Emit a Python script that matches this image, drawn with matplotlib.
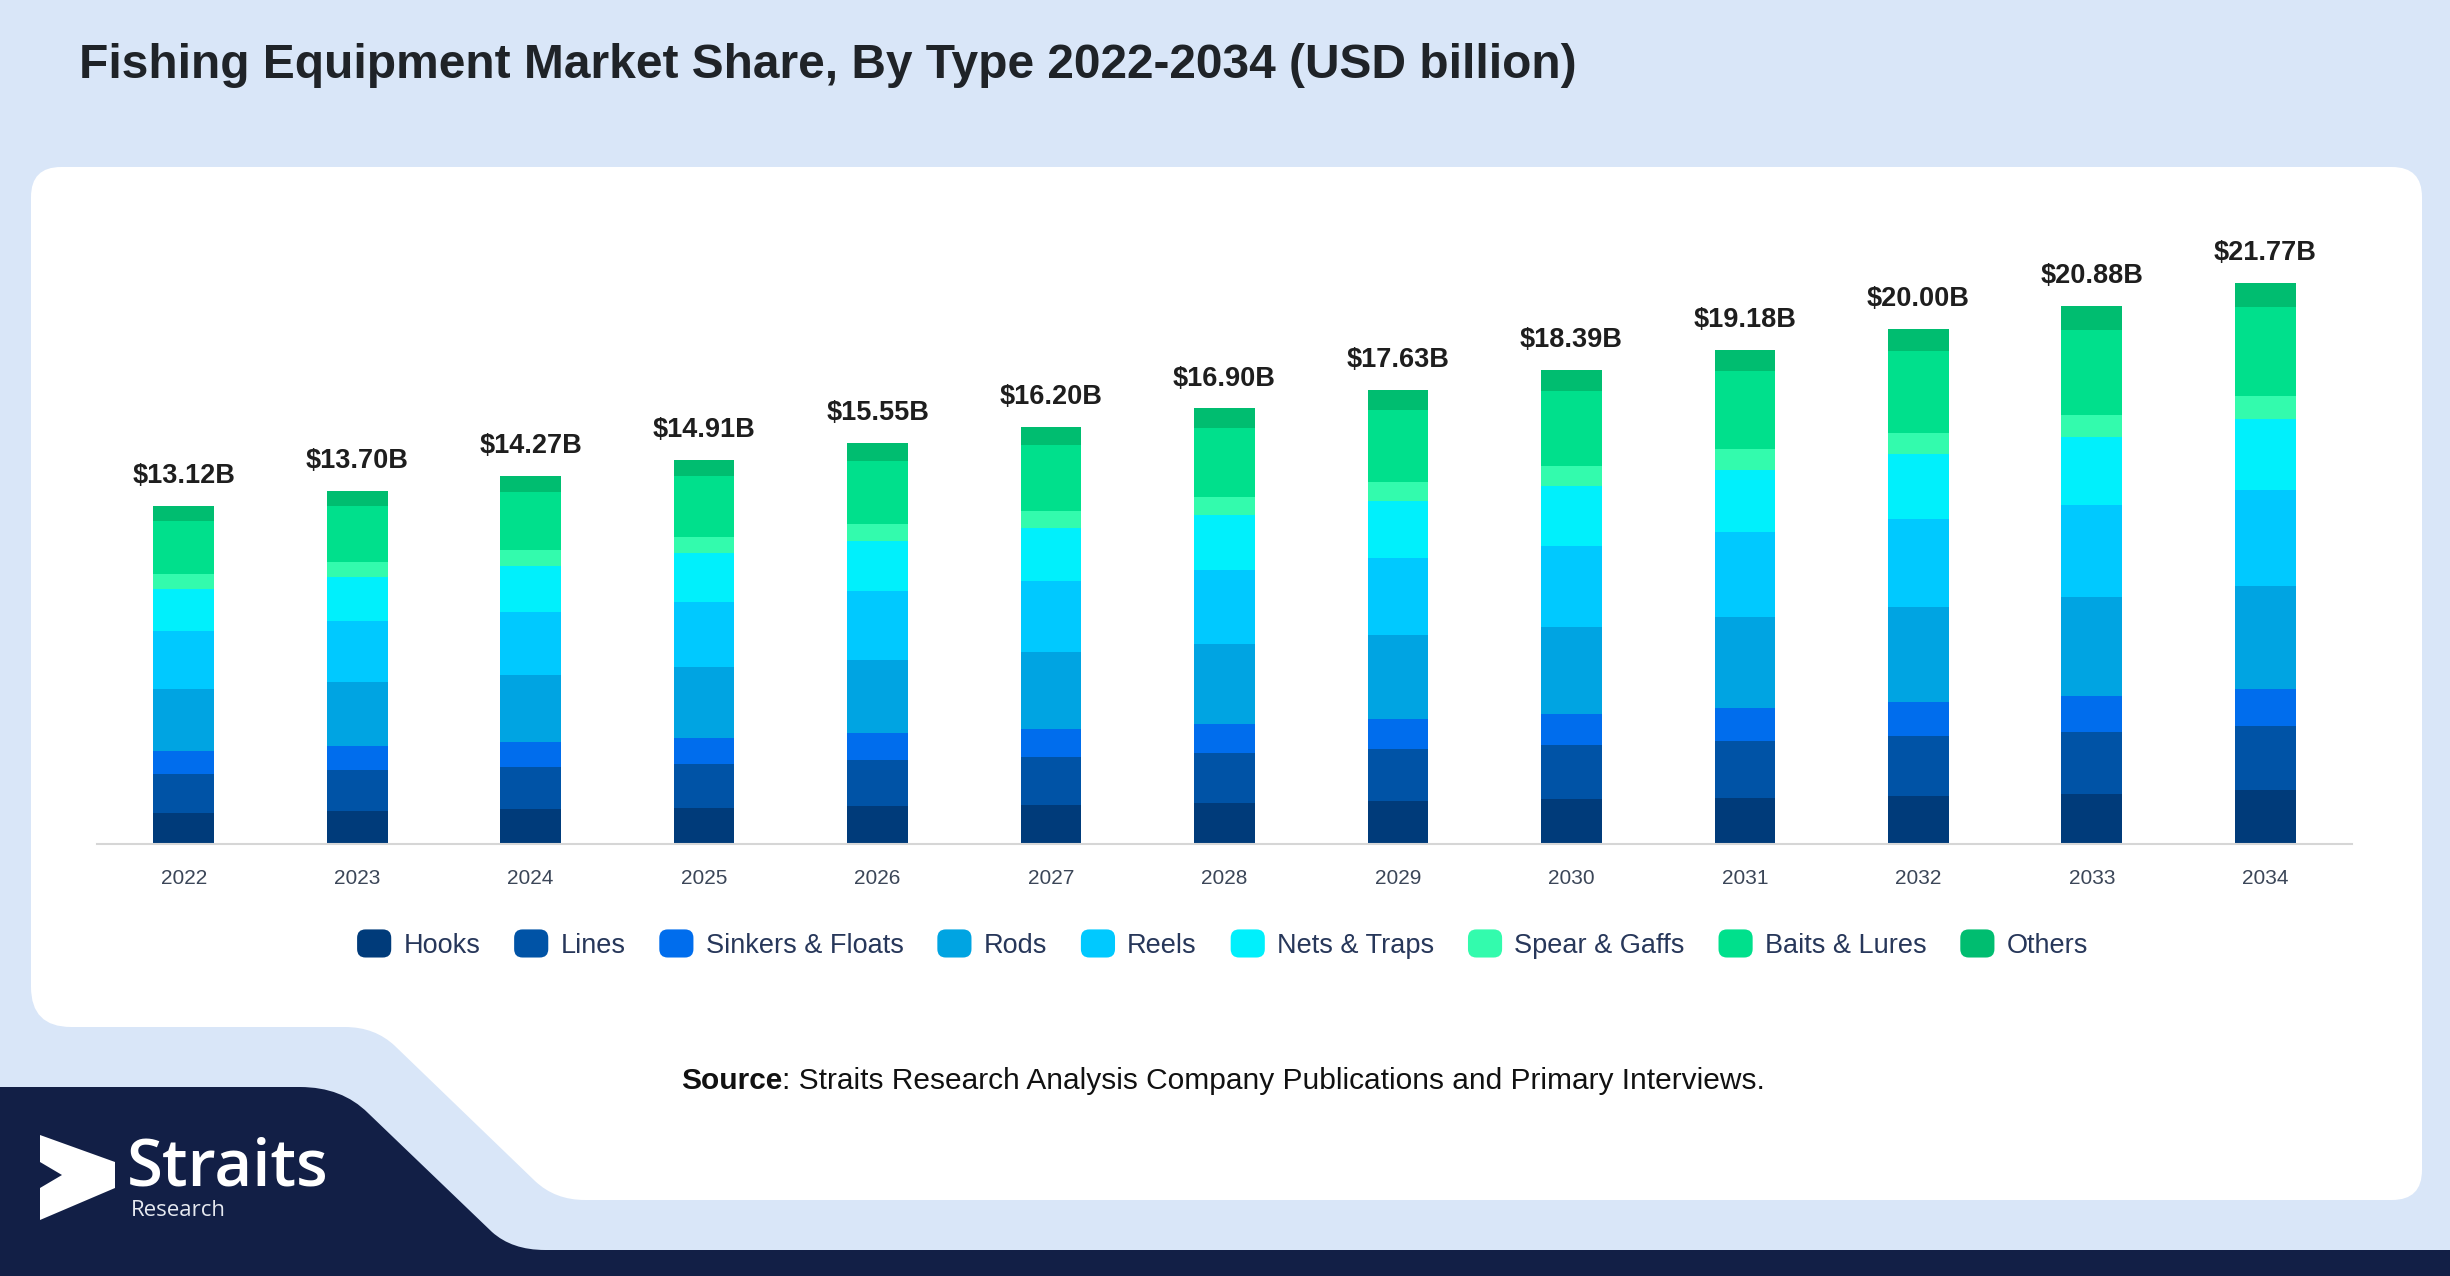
import numpy as np
import matplotlib
matplotlib.use("Agg")
import matplotlib.pyplot as plt
from matplotlib.path import Path
from matplotlib.patches import PathPatch, Polygon, FancyBboxPatch, Patch
from matplotlib.legend_handler import HandlerPatch

plt.rcParams['font.family'] = ['Liberation Sans', 'DejaVu Sans']

# data (USD billion)
years = ['2022', '2023', '2024', '2025', '2026', '2027', '2028',
         '2029', '2030', '2031', '2032', '2033', '2034']
totals = [13.12, 13.70, 14.27, 14.91, 15.55, 16.20, 16.90,
          17.63, 18.39, 19.18, 20.00, 20.88, 21.77]
hooks = [1.20, 1.27, 1.33, 1.39, 1.45, 1.51, 1.57, 1.64, 1.71, 1.78, 1.86, 1.94, 2.06]
lines = [1.51, 1.58, 1.64, 1.71, 1.79, 1.86, 1.94, 2.03, 2.11, 2.21, 2.30, 2.40, 2.49]
sinkers = [0.89, 0.92, 0.96, 1.00, 1.04, 1.09, 1.13, 1.18, 1.23, 1.29, 1.34, 1.40, 1.45]
rods = [2.41, 2.52, 2.63, 2.74, 2.86, 2.98, 3.11, 3.24, 3.38, 3.53, 3.68, 3.84, 4.02]
reels = [2.25, 2.34, 2.44, 2.55, 2.66, 2.77, 2.89, 3.01, 3.14, 3.28, 3.42, 3.57, 3.70]
nets = [1.63, 1.73, 1.80, 1.88, 1.96, 2.04, 2.13, 2.22, 2.32, 2.42, 2.52, 2.63, 2.77]
spear = [0.58, 0.58, 0.60, 0.63, 0.65, 0.68, 0.71, 0.74, 0.77, 0.81, 0.84, 0.88, 0.88]
baits = [2.06, 2.16, 2.25, 2.36, 2.46, 2.56, 2.67, 2.79, 2.91, 3.03, 3.16, 3.30, 3.46]
others = [0.59, 0.60, 0.62, 0.65, 0.68, 0.71, 0.75, 0.78, 0.82, 0.83, 0.88, 0.92, 0.94]

series = [hooks, lines, sinkers, rods, reels, nets, spear, baits, others]
names = ['Hooks', 'Lines', 'Sinkers & Floats', 'Rods', 'Reels', 'Nets & Traps',
         'Spear & Gaffs', 'Baits & Lures', 'Others']
colors = ['#003b7a', '#0053a6', '#006ded', '#00a4e2', '#00c9ff', '#00f0fc',
          '#33fbad', '#00e08c', '#00bd70']

W, H = 2450, 1276
fig = plt.figure(figsize=(W / 100, H / 100), dpi=100)
fig.patch.set_facecolor('#d9e6f8')

# background shapes, in pixel coords (y down)
bg = fig.add_axes([0, 0, 1, 1], zorder=0)
bg.set_xlim(0, W)
bg.set_ylim(H, 0)
bg.axis('off')

M, L, C, Z = Path.MOVETO, Path.LINETO, Path.CURVE3, Path.CLOSEPOLY
panel = [((31, 197), M), ((31, 167), C), ((61, 167), C), ((2392, 167), L),
         ((2422, 167), C), ((2422, 197), C), ((2422, 1170), L),
         ((2422, 1200), C), ((2392, 1200), C), ((585, 1200), L),
         ((555, 1200), C), ((535, 1181), C), ((395, 1046), L),
         ((375, 1027), C), ((345, 1027), C), ((71, 1027), L),
         ((31, 1027), C), ((31, 987), C), ((31, 197), Z)]
bg.add_patch(PathPatch(Path([p for p, _ in panel], [c for _, c in panel]),
                       facecolor='white', edgecolor='none'))

navy = [((0, 1087), M), ((300, 1087), L), ((342, 1087), C), ((368, 1113), C),
        ((492, 1232), L), ((512, 1250), C), ((545, 1250), C), ((W, 1250), L),
        ((W, H), L), ((0, H), L), ((0, 1087), Z)]
bg.add_patch(PathPatch(Path([p for p, _ in navy], [c for _, c in navy]),
                       facecolor='#121f46', edgecolor='none'))

# logo
bg.add_patch(Polygon([(40, 1135), (115, 1162), (115, 1188), (40, 1220),
                      (40, 1188), (62, 1175), (40, 1162)],
                     closed=True, facecolor='white', edgecolor='none'))
bg.text(127, 1186, 'Straits', color='white', fontsize=47, fontweight='semibold',
        family=['Open Sans', 'DejaVu Sans'], va='baseline', ha='left')
bg.text(131, 1216, 'Research', color='#e6e9f0', fontsize=16,
        family=['Open Sans', 'DejaVu Sans'], va='baseline', ha='left')

# title and source
bg.text(79, 78, 'Fishing Equipment Market Share, By Type 2022-2034 (USD billion)',
        fontsize=34.5, fontweight='bold', color='#1f2328', va='baseline', ha='left')
src = bg.text(681, 1089, 'Source', fontsize=21.5, fontweight='bold',
              color='#111111', va='baseline', ha='left')
bg.annotate(': Straits Research Analysis Company Publications and Primary Interviews.',
            xy=(1, 0), xycoords=src, va='bottom', ha='left',
            fontsize=21.5, color='#111111')

# chart
ax = fig.add_axes([97 / W, 1 - 843.5 / H, 2255 / W, 643.5 / H], zorder=2)
ax.set_facecolor('none')
x = np.arange(len(years))
bottom = np.zeros(len(years))
for vals, name, col in zip(series, names, colors):
    ax.bar(x, vals, width=0.35, bottom=bottom, color=col, label=name,
           edgecolor='none')
    bottom += np.array(vals)

for xi, tot in zip(x, totals):
    ax.annotate(f'${tot:.2f}B', (xi, tot), xytext=(0, 16.5),
                textcoords='offset points', ha='center', va='baseline',
                fontsize=19.5, fontweight='bold', color='#1e1e1e')

ax.set_xlim(-0.5, len(years) - 0.5)
ax.set_ylim(0, 25)
ax.set_xticks(x)
ax.set_xticklabels(years, fontsize=15, color='#3b4658')
ax.set_yticks([])
ax.tick_params(axis='x', length=0, pad=18)
for s in ['top', 'left', 'right']:
    ax.spines[s].set_visible(False)
ax.spines['bottom'].set_color('#d6d6d6')
ax.spines['bottom'].set_linewidth(1.5)


class RoundHandler(HandlerPatch):
    def create_artists(self, legend, orig_handle, xdescent, ydescent,
                       width, height, fontsize, trans):
        p = FancyBboxPatch((-xdescent, -ydescent), width, height,
                           boxstyle='round,pad=0,rounding_size=%f' % (height * 0.3),
                           facecolor=orig_handle.get_facecolor(),
                           edgecolor='none', transform=trans)
        return [p]


handles = [Patch(facecolor=c) for c in colors]
leg = fig.legend(handles, names, loc='center', bbox_to_anchor=(0.499, 1 - 944 / H),
                 ncol=9, frameon=False, fontsize=19.5, handlelength=1.26,
                 handleheight=1.22, handletextpad=0.45, columnspacing=1.25,
                 handler_map={Patch: RoundHandler()})
for t in leg.get_texts():
    t.set_color('#27375a')

fig.savefig('out.png', dpi=100, facecolor=fig.get_facecolor())
